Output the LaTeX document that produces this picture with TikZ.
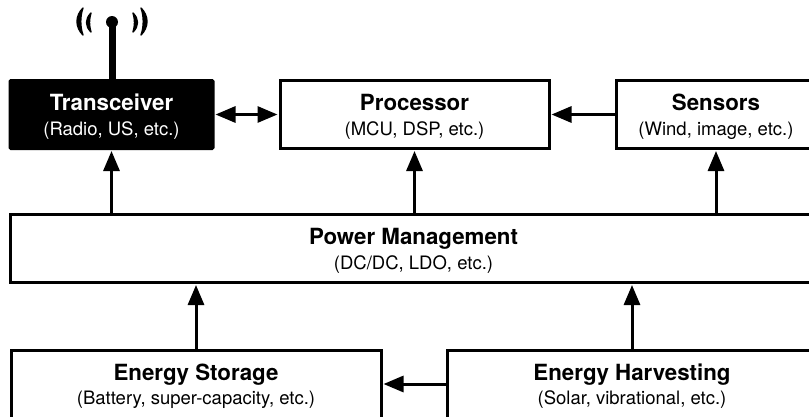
\documentclass[tikz,border=0pt]{standalone}
\usepackage{fontspec}
\setmainfont{TeX Gyre Heros}
\usetikzlibrary{arrows.meta}
\tikzset{
  x=1pt,y=-1pt,
  blockbox/.style={draw=black,line width=3pt,fill=white,minimum height=68pt,inner sep=0pt,align=center,text=black,font=\fontsize{18.5}{22}\selectfont},
  darkbox/.style={blockbox,fill=black,text=white,rounded corners=1pt},
  conn/.style={line width=3pt,-{Triangle[length=20pt,width=16pt]}},
  biconn/.style={line width=3pt,{Triangle[length=20pt,width=16pt]}-{Triangle[length=20pt,width=16pt]}},
  wave/.style={fill=black,draw=black,line width=1.4pt,line join=round},
}
\newcommand{\blocktext}[2]{\rule{0pt}{21pt}{\fontsize{22.3}{22}\selectfont\bfseries #1}\\[2.5pt]#2}
\begin{document}
\begin{tikzpicture}
\path[use as bounding box] (0,0) rectangle (809,416);
\clip (0,0) rectangle (809,416);
\fill[white] (0,0) rectangle (809,416);
\node[darkbox,minimum width=203pt] (trans) at (111.5,114.5) {\blocktext{Transceiver}{(Radio, US, etc.)}};
\node[blockbox,minimum width=269pt] (proc) at (414.5,114.5) {\blocktext{Processor}{(MCU, DSP, etc.)}};
\node[blockbox,minimum width=200pt] (sens) at (716,114.5) {\blocktext{Sensors}{(Wind, image, etc.)}};
\node[blockbox,minimum width=807pt] (pm) at (413.5,248.5) {\blocktext{Power Management}{(DC/DC, LDO, etc.)}};
\node[blockbox,minimum width=370pt] (stor) at (196,384) {\blocktext{Energy Storage}{(Battery, super-capacity, etc.)}};
\node[blockbox,minimum width=370pt] (harv) at (632,384) {\blocktext{Energy Harvesting}{(Solar, vibrational, etc.)}};
\coordinate (tip) at (112,22);
\draw[line width=7pt] (trans.north -| tip) -- (tip);
\fill (tip) circle (6pt);
\draw[wave] (83,8) .. controls (75,16) and (75,27) .. (83,35) .. controls (80,27) and (80,16) .. cycle;
\draw[wave] (91,13) .. controls (85,19) and (85,26) .. (91,32) .. controls (89,26) and (89,19) .. cycle;
\draw[wave] (141,8) .. controls (149,16) and (149,27) .. (141,35) .. controls (144,27) and (144,16) .. cycle;
\draw[wave] (133,13) .. controls (139,19) and (139,26) .. (133,32) .. controls (135,26) and (135,19) .. cycle;
\draw[biconn,shorten <=1pt,shorten >=1pt] (trans.east) -- (proc.west);
\draw[conn,shorten >=1pt] (sens.west) -- (proc.east);
\draw[conn,shorten >=1pt] (harv.west) -- (stor.east);
\draw[conn,shorten >=1pt] (pm.north -| trans) -- (trans.south);
\draw[conn,shorten >=1pt] (pm.north -| proc) -- (proc.south);
\draw[conn,shorten >=1pt] (pm.north -| sens) -- (sens.south);
\draw[conn,shorten >=1pt] (stor.north) -- (pm.south -| stor);
\draw[conn,shorten >=1pt] (harv.north) -- (pm.south -| harv);
\end{tikzpicture}
\end{document}
